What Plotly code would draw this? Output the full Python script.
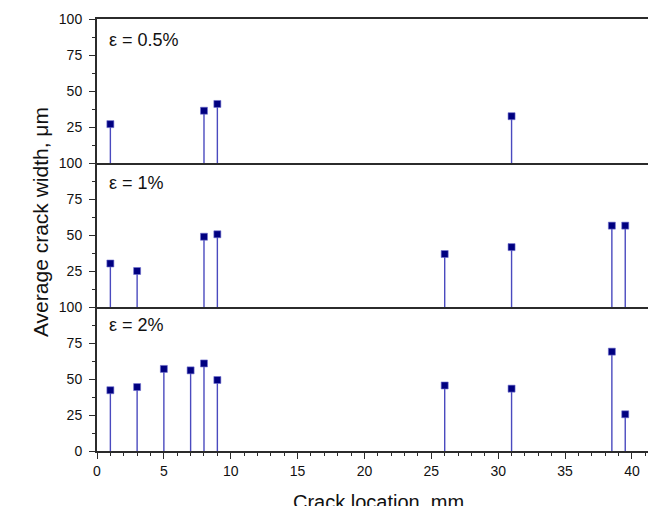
import plotly.graph_objects as go
from plotly.subplots import make_subplots

# Data
labels = ["ε = 0.5%", "ε = 1%", "ε = 2%"]
x_05 = [1, 8, 9, 31]
y_05 = [27, 36.3, 41, 32.5]
x_1 = [1, 3, 8, 9, 26, 31, 38.5, 39.5]
y_1 = [30.2, 25, 48.8, 50.5, 36.8, 41.6, 56.5, 56.5]
x_2 = [1, 3, 5, 7, 8, 9, 26, 31, 38.5, 39.5]
y_2 = [42.2, 44.4, 57, 56, 60.8, 49.3, 45.5, 43.3, 69, 25.5]
x_ticks = [0, 5, 10, 15, 20, 25, 30, 35, 40]
y_ticks = [0, 25, 50, 75, 100]

series = [(x_05, y_05), (x_1, y_1), (x_2, y_2)]

fig = make_subplots(rows=3, cols=1, shared_xaxes=True, vertical_spacing=0)

FONT = "Liberation Sans, Arial, sans-serif"
LINE = "#2b2b2b"
label_y = [0.855, 0.862, 0.875]

for i, (xs, ys) in enumerate(series):
    fig.add_trace(go.Scatter(
        x=xs, y=ys, mode="markers",
        marker=dict(symbol="square", size=7, color="#000080",
                    line=dict(width=0.6, color="#7070d0")),
        error_y=dict(type="data", symmetric=False, array=[0] * len(ys),
                     arrayminus=ys, width=0, thickness=1.4, color="#4a4abf"),
        showlegend=False, cliponaxis=False,
    ), row=i + 1, col=1)

    ticktext = [str(v) for v in y_ticks]
    if i < 2:
        ticktext[0] = ""
    fig.update_yaxes(
        range=[0, 100], tickvals=y_ticks, ticktext=ticktext,
        ticks="outside", ticklen=6, tickwidth=1.3, tickcolor=LINE,
        minor=dict(dtick=12.5, tick0=0, ticks="outside", ticklen=3, tickwidth=1.2, tickcolor=LINE),
        showline=True, linecolor=LINE, linewidth=2, showgrid=False, zeroline=False,
        tickfont=dict(family=FONT, size=14, color="#111"), automargin=False,
        ticklabelstandoff=4,
        row=i + 1, col=1)
    fig.update_xaxes(
        range=[0, 41.8], showline=True, linecolor=LINE, linewidth=2,
        mirror=(i == 0), automargin=False,
        showgrid=False, zeroline=False,
        row=i + 1, col=1)
    fig.add_annotation(
        text=labels[i], xref="x domain" if i == 0 else f"x{i+1} domain",
        yref="y domain" if i == 0 else f"y{i+1} domain",
        x=0.018, y=label_y[i], xanchor="left", yanchor="middle", showarrow=False,
        font=dict(family=FONT, size=18, color="#111"))

fig.update_xaxes(
    tickvals=x_ticks, ticks="outside", ticklen=6, tickwidth=1.3, tickcolor=LINE,
    minor=dict(dtick=1, tick0=0, ticks="outside", ticklen=3, tickwidth=1.2, tickcolor=LINE),
    tickfont=dict(family=FONT, size=14, color="#111"),
    showticklabels=True, row=3, col=1)

fig.add_annotation(text="Average crack width, μm", xref="paper", yref="paper",
                   x=-0.102, y=0.53, textangle=-90, showarrow=False,
                   xanchor="center", yanchor="middle",
                   font=dict(family=FONT, size=21, color="#111"))
fig.add_annotation(text="Crack location, mm", xref="paper", yref="paper",
                   x=0.503, y=-0.088, showarrow=False,
                   xanchor="center", yanchor="top",
                   font=dict(family=FONT, size=20, color="#111"))

# The page shows the figure offset by the browser's default 8px body margin,
# so the figure is sized/margined to land the plot area where the reference has it.
fig.update_layout(
    width=648, height=498,
    margin=dict(l=89, r=0, t=11, b=55),
    paper_bgcolor="white", plot_bgcolor="white",
)

fig.write_html("out.html")
